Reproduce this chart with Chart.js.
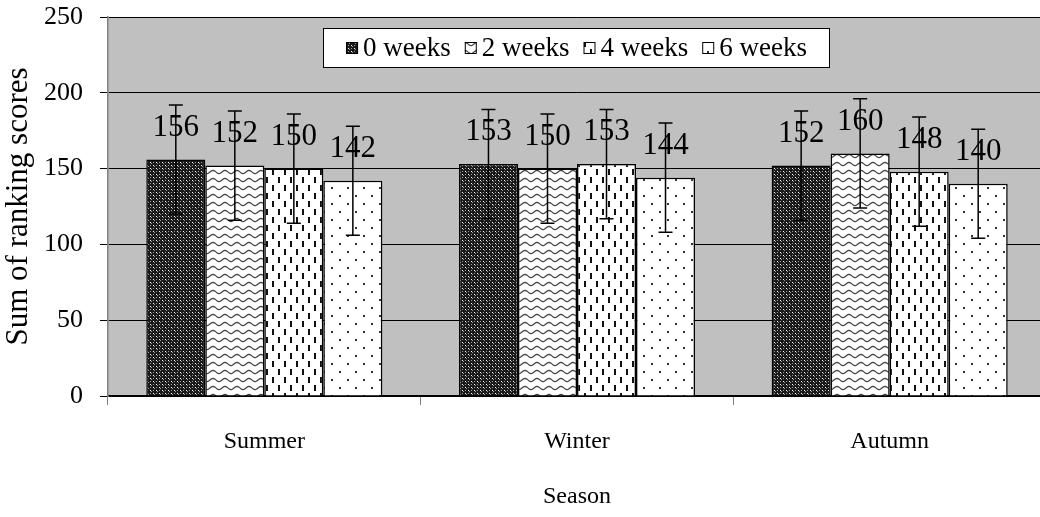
<!DOCTYPE html>
<html>
<head>
<meta charset="utf-8">
<script src="https://cdn.jsdelivr.net/npm/chart.js@4.4.1/dist/chart.umd.min.js"></script>
<style>
  html, body { margin: 0; padding: 0; background: #fff; overflow: hidden; }
</style>
</head>
<body>
<canvas id="myBarChart" width="1046" height="517"></canvas>
<script>
var categories = ['Summer', 'Winter', 'Autumn'];
var seriesNames = ['0 weeks', '2 weeks', '4 weeks', '6 weeks'];
var weeks0 = [156, 153, 152];
var weeks2 = [152, 150, 160];
var weeks4 = [150, 153, 148];
var weeks6 = [142, 144, 140];
var err0 = [36, 36, 36];
var err2 = [36, 36, 36];
var err4 = [36, 36, 36];
var err6 = [36, 36, 36];

var FONT = "'Liberation Serif', 'Times New Roman', serif";

// hatch patterns like the old spreadsheet fills
function makeTile(kind) {
    var c = document.createElement('canvas');
    var g;
    if (kind == 0) {
        c.width = 6; c.height = 6; g = c.getContext('2d');
        g.fillStyle = '#1a1a1a'; g.fillRect(0, 0, 6, 6);
        g.fillStyle = '#ffffff';
        g.fillRect(0, 0, 1, 1); g.fillRect(3, 3, 1, 1);
        g.fillStyle = '#9a9a9a';
        g.fillRect(1, 1, 1, 1); g.fillRect(4, 4, 1, 1);
        g.fillRect(0, 3, 1, 1); g.fillRect(3, 0, 1, 1);
    } else if (kind == 1) {
        c.width = 12; c.height = 8; g = c.getContext('2d');
        g.fillStyle = '#fff'; g.fillRect(0, 0, 12, 8);
        g.strokeStyle = '#444'; g.lineWidth = 1.3;
        g.beginPath();
        for (var x = 0; x <= 12; x++) {
            var y = 4 + 1.6 * Math.sin(x / 12 * Math.PI * 2);
            if (x == 0) g.moveTo(x, y); else g.lineTo(x, y);
        }
        g.stroke();
    } else if (kind == 2) {
        c.width = 12; c.height = 16; g = c.getContext('2d');
        g.fillStyle = '#fff'; g.fillRect(0, 0, 12, 16);
        g.fillStyle = '#111';
        g.fillRect(2, 1, 2, 6); g.fillRect(8, 9, 2, 6);
    } else {
        c.width = 16; c.height = 16; g = c.getContext('2d');
        g.fillStyle = '#fff'; g.fillRect(0, 0, 16, 16);
        g.fillStyle = '#333';
        g.fillRect(3, 3, 2, 2); g.fillRect(11, 11, 2, 2);
    }
    return c;
}

var ctx = document.getElementById('myBarChart').getContext('2d');
var patterns = [0, 1, 2, 3].map(function (k) { return ctx.createPattern(makeTile(k), 'repeat'); });
var allErrors = [err0, err2, err4, err6];

var plotBackground = {
    id: 'plotBackground',
    beforeDraw: function (chart) {
        var a = chart.chartArea, c = chart.ctx;
        c.save();
        c.fillStyle = '#c0c0c0';
        c.fillRect(a.left, a.top, a.right - a.left, a.bottom - a.top);
        c.restore();
    }
};

var labelsAndErrors = {
    id: 'labelsAndErrors',
    afterDatasetsDraw: function (chart) {
        var c = chart.ctx;
        var yScale = chart.scales.y;
        c.save();
        // value labels first, error bars go over them
        c.fillStyle = '#000';
        c.font = '31px ' + FONT;
        c.textAlign = 'center';
        c.textBaseline = 'middle';
        chart.data.datasets.forEach(function (ds, i) {
            chart.getDatasetMeta(i).data.forEach(function (bar, j) {
                c.fillText(String(ds.data[j]), bar.x, bar.y - 32);
            });
        });
        c.strokeStyle = '#000';
        c.lineWidth = 1.5;
        chart.data.datasets.forEach(function (ds, i) {
            chart.getDatasetMeta(i).data.forEach(function (bar, j) {
                var v = ds.data[j], e = allErrors[i][j];
                var top = yScale.getPixelForValue(v + e);
                var bot = yScale.getPixelForValue(v - e);
                c.beginPath();
                c.moveTo(bar.x, top); c.lineTo(bar.x, bot);
                c.moveTo(bar.x - 7, top); c.lineTo(bar.x + 7, top);
                c.moveTo(bar.x - 7, bot); c.lineTo(bar.x + 7, bot);
                c.stroke();
            });
        });
        c.restore();
    }
};

// boxed legend sitting inside the plot, like the original
var boxLegend = {
    id: 'boxLegend',
    afterDraw: function (chart) {
        var c = chart.ctx;
        var bx = 323, by = 28, bw = 507, bh = 40;
        c.save();
        c.fillStyle = '#fff';
        c.fillRect(bx, by, bw, bh);
        c.strokeStyle = '#000';
        c.lineWidth = 1;
        c.strokeRect(bx + 0.5, by + 0.5, bw - 1, bh - 1);
        c.font = '27px ' + FONT;
        c.textBaseline = 'middle';
        c.textAlign = 'left';
        var sw = 12, gapIn = 5, gapOut = 14;
        var widths = seriesNames.map(function (n) { return c.measureText(n).width; });
        var total = 0;
        widths.forEach(function (w) { total += sw + gapIn + w; });
        total += gapOut * (seriesNames.length - 1);
        var x = bx + (bw - total) / 2;
        var cy = by + bh / 2;
        chart.data.datasets.forEach(function (ds, i) {
            c.fillStyle = ds.backgroundColor;
            c.fillRect(x, cy - sw / 2, sw, sw);
            c.strokeRect(x + 0.5, cy - sw / 2 + 0.5, sw - 1, sw - 1);
            c.fillStyle = '#000';
            c.fillText(seriesNames[i], x + sw + gapIn, cy + 1);
            x += sw + gapIn + widths[i] + gapOut;
        });
        c.restore();
    }
};

var values = [weeks0, weeks2, weeks4, weeks6];
var chart = new Chart(ctx, {
    type: 'bar',
    data: {
        labels: categories,
        datasets: values.map(function (d, i) {
            return {
                label: seriesNames[i],
                data: d,
                backgroundColor: patterns[i],
                borderColor: '#000',
                borderWidth: 1.5,
                barPercentage: 1,
                categoryPercentage: 0.755
            };
        })
    },
    options: {
        responsive: false,
        animation: false,
        layout: { padding: 0 },
        plugins: {
            legend: { display: false },
            tooltip: { enabled: false }
        },
        scales: {
            x: {
                grid: { offset: true, drawOnChartArea: false, tickLength: 9, color: '#808080' },
                border: { color: '#000', width: 1.5 },
                ticks: { color: '#000', font: { family: FONT, size: 24 }, padding: 22 },
                title: { display: true, text: 'Season', color: '#000', font: { family: FONT, size: 24 }, padding: { top: 0, bottom: 6 } },
                afterFit: function (s) { s.height = 121; }
            },
            y: {
                min: 0, max: 250,
                ticks: { stepSize: 50, color: '#000', font: { family: FONT, size: 26 }, padding: 17 },
                grid: { color: '#000', lineWidth: 1, tickLength: 8 },
                border: { color: '#808080', width: 1.5 },
                title: { display: true, text: 'Sum of ranking scores', color: '#000', font: { family: FONT, size: 31 }, padding: { top: 0, bottom: 0 } },
                afterFit: function (s) {
                    s.width = 108;
                    s.paddingTop = 17;
                    s.paddingBottom = 0;
                }
            }
        }
    },
    plugins: [plotBackground, labelsAndErrors, boxLegend]
});
</script>
</body>
</html>
